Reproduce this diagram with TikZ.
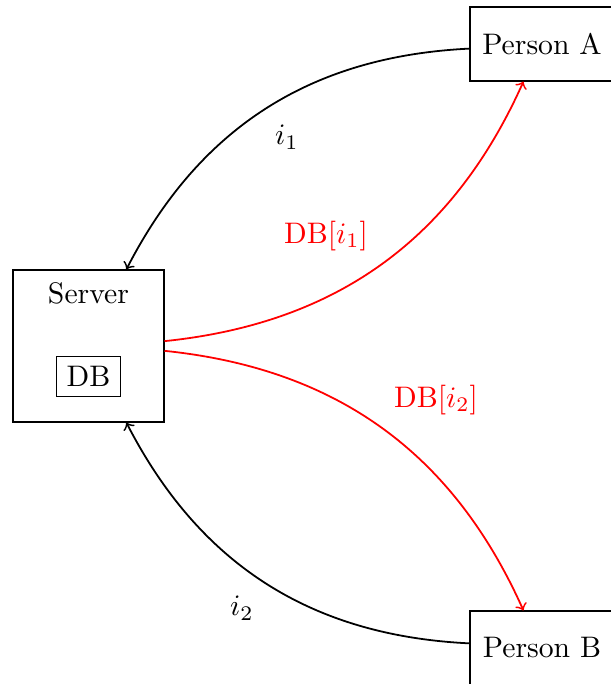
\documentclass[tikz,border=0pt]{standalone}
\begin{document}
\begin{tikzpicture}[x=0.3367pt,y=0.3367pt,
  box/.style={draw, rectangle, inner sep=3.33pt},
  arr/.style={->, semithick},
  redarr/.style={->, semithick, red},
  lbl/.style={inner sep=0pt}]
\useasboundingbox (0,0) rectangle (610,684);
\node[box, minimum width=50.8pt, minimum height=51.2pt] (server) at (88.5,338) {};
\node[lbl] (serverlabel) at (88.5,391) {Server};
\node[box] (db) at (88.5,307.5) {DB};
\node[box, minimum height=24.9pt, minimum width=48.5pt] (pa) at (542,640) {Person A};
\node[box, minimum height=24.9pt, minimum width=48.5pt] (pb) at (542,36) {Person B};
\draw[arr] (pa) to[bend right=30] (server);
\draw[arr] (pb) to[bend left=30] (server);
\draw[redarr] (server) to[bend right=30] (pa);
\draw[redarr] (server) to[bend left=30] (pb);
\node[lbl] (l1) at (287,547) {$i_1$};
\node[lbl] (l2) at (242,76) {$i_2$};
\node[lbl, text=red] (l3) at (326,448) {DB$[i_1]$};
\node[lbl, text=red] (l4) at (436,284) {DB$[i_2]$};
\end{tikzpicture}
\end{document}
